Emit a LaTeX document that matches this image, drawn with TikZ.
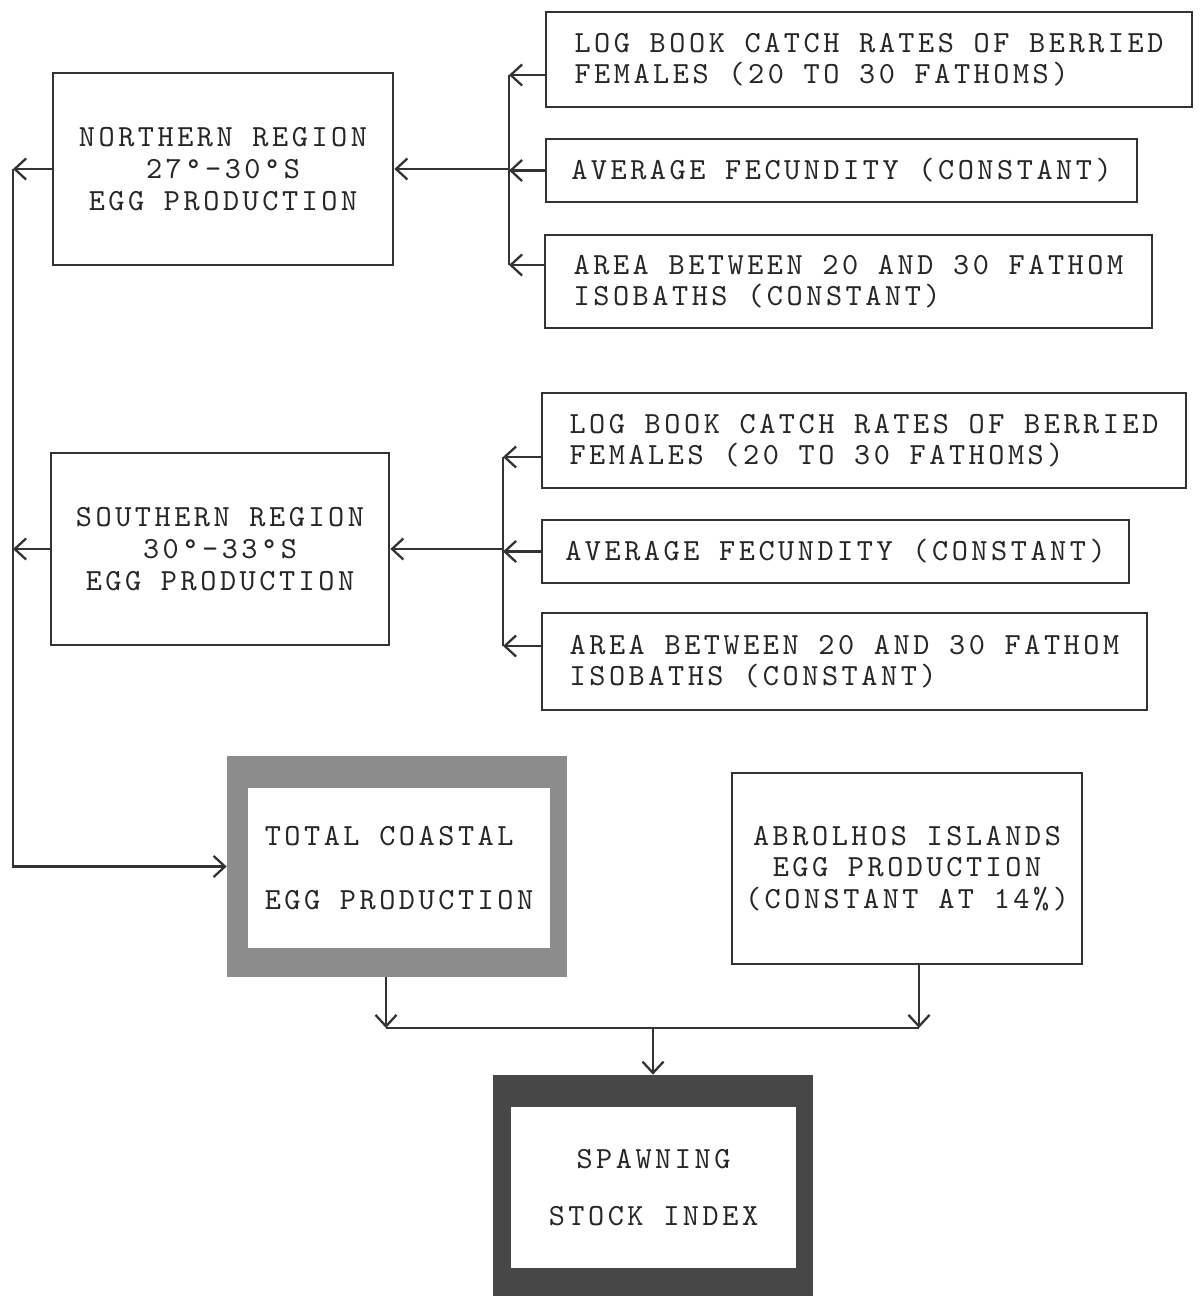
\documentclass[tikz,border=0pt]{standalone}
\usepackage{fontspec}
\newfontfamily\boxfont{lmmono10-regular.otf}[LetterSpace=11.5]
\usetikzlibrary{shapes,arrows.meta,positioning,calc}

\begin{document}
\begin{tikzpicture}[>={Straight Barb[length=6.5pt,width=12pt]}]
  \tikzstyle{every node}=[font=\boxfont\fontsize{17.5}{18}\selectfont, text=black!85]
  \tikzstyle{box}=[rectangle, draw=black!80, line width=1.5pt, inner sep=0pt]
  \tikzstyle{frame}=[rectangle, inner sep=0pt]
  \tikzstyle{link}=[line width=1.3pt, draw=black!80]
  \useasboundingbox (0,0) rectangle (24,-25.92);

  % northern region and its inputs
  \node[box, minimum width=12.92cm, minimum height=1.9cm, align=left] (nlog) at (17.38,-1.19) {LOG BOOK CATCH RATES OF BERRIED\\FEMALES (20 TO 30 FATHOMS)};
  \node[box, minimum width=11.82cm, minimum height=1.26cm] (nfec) at (16.83,-3.41) {AVERAGE FECUNDITY (CONSTANT)};
  \node[box, minimum width=12.14cm, minimum height=1.86cm, align=left] (narea) at (16.97,-5.63) {AREA BETWEEN 20 AND 30 FATHOM\\ISOBATHS (CONSTANT)};
  \node[box, minimum width=6.8cm, minimum height=3.84cm, align=center] (north) at (4.46,-3.38) {NORTHERN REGION\\27°-30°S\\EGG PRODUCTION};

  % southern region and its inputs
  \node[box, minimum width=12.88cm, minimum height=1.9cm, align=left] (slog) at (17.28,-8.81) {LOG BOOK CATCH RATES OF BERRIED\\FEMALES (20 TO 30 FATHOMS)};
  \node[box, minimum width=11.74cm, minimum height=1.26cm] (sfec) at (16.71,-11.03) {AVERAGE FECUNDITY (CONSTANT)};
  \node[box, minimum width=12.1cm, minimum height=1.94cm, align=left] (sarea) at (16.89,-13.23) {AREA BETWEEN 20 AND 30 FATHOM\\ISOBATHS (CONSTANT)};
  \node[box, minimum width=6.76cm, minimum height=3.84cm, align=center] (south) at (4.4,-10.98) {SOUTHERN REGION\\30°-33°S\\EGG PRODUCTION};

  % totals
  \node[frame, fill=black!45, minimum width=6.8cm, minimum height=4.42cm] (totalframe) at (7.94,-17.33) {};
  \node[frame, fill=white, minimum width=6.04cm, minimum height=3.2cm, align=left] (total) at (7.98,-17.36) {TOTAL COASTAL\\[18pt]EGG PRODUCTION};
  \node[box, minimum width=7.0cm, minimum height=3.82cm, align=center] (abro) at (18.14,-17.37) {ABROLHOS ISLANDS\\EGG PRODUCTION\\(CONSTANT AT 14\%)};
  \node[frame, fill=black!72, minimum width=6.4cm, minimum height=4.5cm] (spawnframe) at (13.06,-23.75) {};
  \node[frame, fill=white, minimum width=5.7cm, minimum height=3.22cm, align=center] (spawn) at (13.07,-23.75) {SPAWNING\\[14pt]STOCK INDEX};

  % connectors
  \coordinate (nb1) at (10.18,-1.5);
  \coordinate (nb3) at (10.18,-5.3);
  \coordinate (sb1) at (10.06,-9.14);
  \coordinate (sb3) at (10.06,-12.92);
  \coordinate (lb) at (0.26,0);
  \coordinate (join) at (13.06,-20.56);

  \draw[link] (nb1) -- (nb3);
  \draw[link,->] (nlog.west |- nb1) -- (nb1);
  \draw[link,->] (nfec.west) -- (nfec.west -| nb1);
  \draw[link,->] (narea.west |- nb3) -- (nb3);
  \draw[link,->] (north.east -| nb1) -- (north.east);

  \draw[link] (sb1) -- (sb3);
  \draw[link,->] (slog.west |- sb1) -- (sb1);
  \draw[link,->] (sfec.west) -- (sfec.west -| sb1);
  \draw[link,->] (sarea.west |- sb3) -- (sb3);
  \draw[link,->] (south.east -| sb1) -- (south.east);

  \draw[link,->] (north.west) -- (north.west -| lb);
  \draw[link,->] (south.west) -- (south.west -| lb);
  \draw[link,->] (north.west -| lb) |- (totalframe.west);

  \draw[link,->] ([xshift=-0.22cm]totalframe.south) -- ([xshift=-0.22cm]totalframe.south |- join);
  \draw[link,->] ([xshift=0.24cm]abro.south) -- ([xshift=0.24cm]abro.south |- join);
  \draw[link] ([xshift=-0.22cm]totalframe.south |- join) -- ([xshift=0.24cm]abro.south |- join);
  \draw[link,->] (join) -- (spawnframe.north);
\end{tikzpicture}
\end{document}
